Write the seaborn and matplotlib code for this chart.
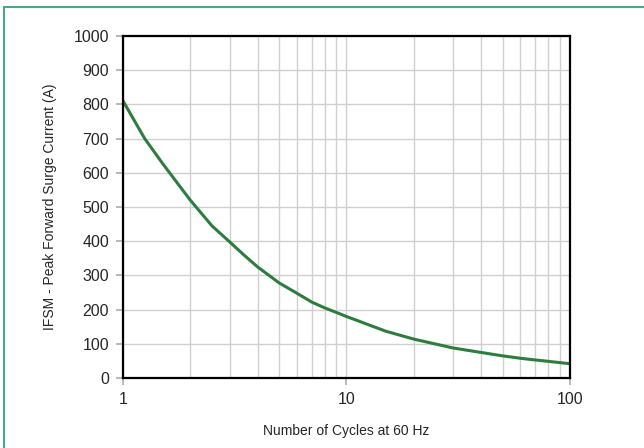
import numpy as np
import pandas as pd
import matplotlib
matplotlib.use("Agg")
import matplotlib.pyplot as plt
from matplotlib.lines import Line2D
import seaborn as sns

# === 数据 ===
cycles = [1, 1.25, 1.5, 1.75, 2, 2.5, 3, 3.5, 4, 5, 6, 7, 8, 9, 10, 15, 20, 30, 40, 50, 60, 70, 80, 100]
ifsm = [810, 700, 628, 570, 520, 445, 398, 358, 325, 278, 248, 222, 205, 192, 180, 137, 114, 88, 75, 65, 58, 53, 49, 42]
y_ticks = list(range(0, 1001, 100))
x_ticks = [1, 10, 100]

df = pd.DataFrame({"cycles": cycles, "ifsm": ifsm})

sns.set_theme(style="white")
plt.rcParams['font.family'] = ['Liberation Sans', 'DejaVu Sans']

fig = plt.figure(figsize=(6.44, 4.48), dpi=100)
ax = fig.add_axes([0.191, 0.156, 0.694, 0.764])

sns.lineplot(data=df, x="cycles", y="ifsm", ax=ax, color="#2e7d3e", linewidth=2.2)

ax.set_xscale("log")
ax.set_xlim(1, 100)
ax.set_ylim(0, 1000)
ax.set_xticks(x_ticks)
ax.set_xticklabels([str(t) for t in x_ticks])
ax.set_yticks(y_ticks)
ax.xaxis.set_minor_locator(matplotlib.ticker.LogLocator(base=10, subs=np.arange(2, 10)))
ax.xaxis.set_minor_formatter(matplotlib.ticker.NullFormatter())

ax.grid(True, which="major", color="#d0d0d0", linewidth=1)
ax.grid(True, which="minor", axis="x", color="#d0d0d0", linewidth=1)
for s in ax.spines.values():
    s.set_color("black")
    s.set_linewidth(1.6)
ax.tick_params(axis="both", which="major", labelsize=11.5, length=5, color="#b0b0b0",
               direction="out", bottom=True, left=True, pad=5)
ax.tick_params(axis="x", which="minor", length=0)

ax.set_xlabel("Number of Cycles at 60 Hz", fontsize=10, labelpad=12)
ax.set_ylabel("IFSM - Peak Forward Surge Current (A)", fontsize=10, labelpad=12)

# 外框（绿色）
fig.add_artist(Line2D([0.006, 1.0], [0.985, 0.985], color="#4aa982", linewidth=1.5, transform=fig.transFigure))
fig.add_artist(Line2D([0.006, 0.006], [0.0, 0.985], color="#4aa982", linewidth=1.5, transform=fig.transFigure))

fig.savefig("out.png", dpi=100)
